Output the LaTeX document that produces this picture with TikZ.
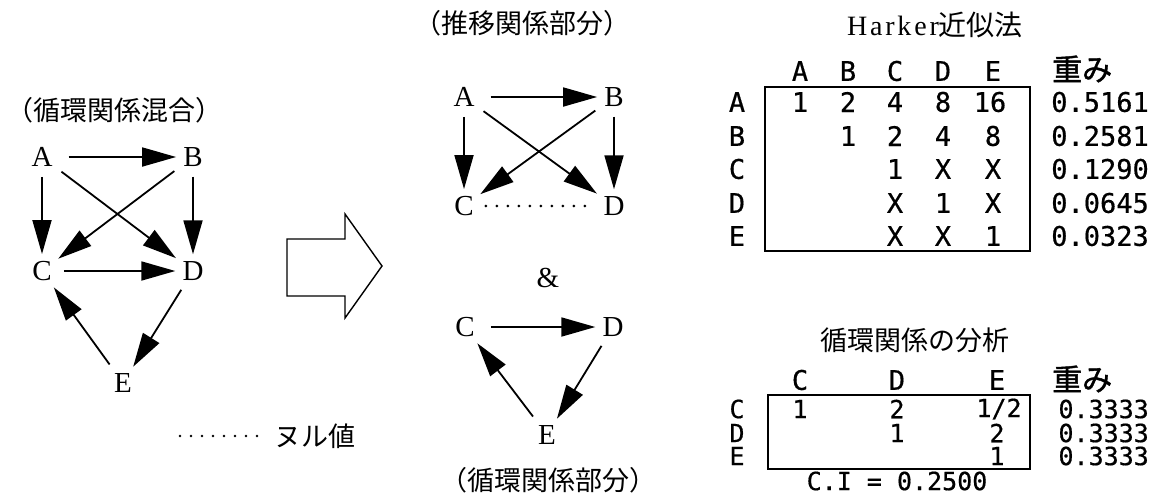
\documentclass[tikz,border=0pt]{standalone}
\usepackage{fontspec}
\usetikzlibrary{arrows.meta}
\setmainfont{Liberation Serif}
\newfontfamily\jp{Noto Sans CJK JP}
\newfontfamily\jpbold[FakeBold=1.5]{Noto Sans CJK JP}
\newfontfamily\mono[FakeBold=0.6]{DejaVu Sans Mono}
\newfontfamily\wideserif[LetterSpace=10]{Liberation Serif}

\begin{document}
\begin{tikzpicture}[x=1pt,y=-1pt,
  vtx/.style={font=\fontsize{29}{29}\selectfont, inner sep=4pt},
  rel/.style={line width=1.8pt, -{Triangle[length=34pt,width=19pt]},
              shorten <=6pt, shorten >=3pt},
  nullrel/.style={line width=2.8pt, line cap=round,
                  dash pattern=on 0pt off 11pt, shorten <=8pt, shorten >=6pt},
  jlabel/.style={font=\jp\fontsize{27}{27}\selectfont, inner sep=0pt},
  cell/.style={font=\mono\fontsize{27}{27}\selectfont, inner sep=0pt},
  weight/.style={font=\mono\fontsize{27}{27}\selectfont, inner sep=0pt, anchor=east},
  smallcell/.style={font=\mono\fontsize{25}{25}\selectfont, inner sep=0pt},
  smallweight/.style={font=\mono\fontsize{25}{25}\selectfont, inner sep=0pt, anchor=east},
  wtitle/.style={font=\jpbold\fontsize{30}{30}\selectfont, inner sep=0pt, anchor=west},
  tbox/.style={line width=1.8pt},
  hollow/.style={line width=1.4pt, line join=miter}
]
\useasboundingbox (0,0) rectangle (1161,496);

% ---------- mixed graph with a cycle ----------
\node[jlabel] (tmix) at (114,110) {（循環関係混合）};
\node[vtx] (a1) at (42,157) {A};
\node[vtx] (b1) at (193,157) {B};
\node[vtx] (c1) at (42,271) {C};
\node[vtx] (d1) at (193,271) {D};
\node[vtx] (e1) at (123,383) {E};
\draw[rel, shorten <=12pt] (a1) -- (b1);
\draw[rel] (a1) -- (c1);
\draw[rel] (b1) -- (d1);
\draw[rel] (a1) -- (d1);
\draw[rel] (b1) -- (c1);
\draw[rel, shorten <=8pt] (c1) -- (d1);
\draw[rel] (d1) -- (e1);
\draw[rel] (e1) -- (c1);

% legend for the null value
\node[jlabel, anchor=west] (nul) at (274,436) {ヌル値};
\coordinate (nulstart) at (176,436);
\draw[nullrel, shorten <=4pt, shorten >=8pt] (nulstart) -- (nul.west);

% ---------- hollow block arrow ----------
\draw[hollow] (287,239) -- (345,239) -- (345,214) -- (382,266)
  -- (345,318) -- (345,296) -- (287,296) -- cycle;

% ---------- transitive part ----------
\node[jlabel] (ttrans) at (522,23) {（推移関係部分）};
\node[vtx] (a2) at (464,97) {A};
\node[vtx] (b2) at (614,97) {B};
\node[vtx] (c2) at (464,206) {C};
\node[vtx] (d2) at (614,206) {D};
\draw[rel, shorten <=12pt] (a2) -- (b2);
\draw[rel] (a2) -- (c2);
\draw[rel] (b2) -- (d2);
\draw[rel] (a2) -- (d2);
\draw[rel] (b2) -- (c2);
\draw[nullrel] (c2) -- (d2);

\node[vtx] (amp) at (548,278) {\&};

% ---------- cyclic part ----------
\node[vtx] (c3) at (465,327) {C};
\node[vtx] (d3) at (613,327) {D};
\node[vtx] (e3) at (547,435) {E};
\draw[rel, shorten <=12pt] (c3) -- (d3);
\draw[rel] (d3) -- (e3);
\draw[rel] (e3) -- (c3);
\node[jlabel] (tcyc) at (548,480) {（循環関係部分）};

% ---------- Harker approximation table ----------
\node[inner sep=0pt, font=\fontsize{28}{28}\selectfont] (th) at (935,25)
  {{\wideserif Harker}{\jp 近似法}};
\foreach \n/\x in {A/800,B/848,C/895,D/943,E/993}
  \node[cell] (h1\n) at (\x,71) {\n};
\node[wtitle] (w1) at (1052,69) {重み};
\foreach \n/\y in {A/102,B/136,C/169,D/203,E/236}
  \node[cell] (r1\n) at (737,\y) {\n};
\draw[tbox] (765,87) rectangle (1030,251);
% upper triangle of the pairwise comparison matrix
\foreach \v/\x/\y [count=\i] in {1/800/102, 2/848/102, 4/895/102, 8/943/102, 16/990/102,
    1/848/136, 2/895/136, 4/943/136, 8/993/136,
    1/895/169, X/943/169, X/993/169,
    X/895/203, 1/943/203, X/993/203,
    X/895/236, X/943/236, 1/993/236}
  \node[cell] (m1-\i) at (\x,\y) {\v};
\foreach \w/\y [count=\i] in {0.5161/102, 0.2581/136, 0.1290/169, 0.0645/203, 0.0323/236}
  \node[weight] (g1-\i) at (1149,\y) {\w};

% ---------- analysis of the cyclic part ----------
\node[jlabel] (tc) at (915,340) {循環関係の分析};
\foreach \n/\x in {C/800,D/897,E/997}
  \node[cell] (h2\n) at (\x,380) {\n};
\node[wtitle] (w2) at (1052,379) {重み};
\foreach \n/\y in {C/409,D/433,E/456}
  \node[smallcell] (r2\n) at (737,\y) {\n};
\draw[tbox] (768,395) rectangle (1030,469);
\foreach \v/\x/\y [count=\i] in {1/800/409, 2/897/409, {1/2}/999/409,
    1/897/433, 2/997/433, 1/997/456}
  \node[smallcell] (m2-\i) at (\x,\y) {\v};
\foreach \w/\y [count=\i] in {0.3333/409, 0.3333/433, 0.3333/456}
  \node[smallweight] (g2-\i) at (1149,\y) {\w};
\node[smallcell] (ci) at (897,481) {C.I = 0.2500};
\end{tikzpicture}
\end{document}
